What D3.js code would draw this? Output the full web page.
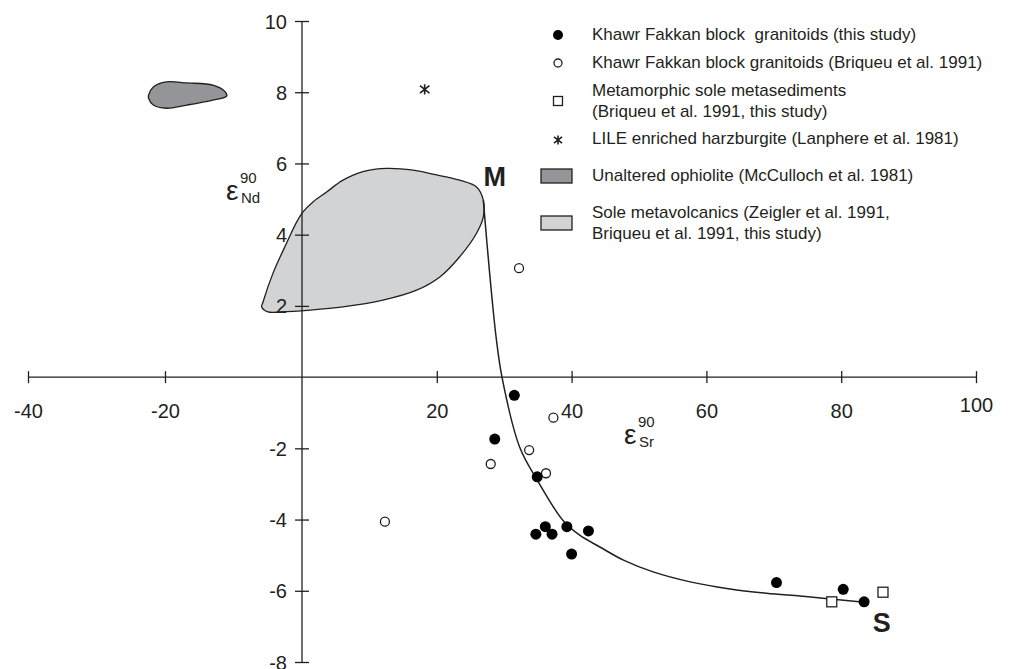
<!DOCTYPE html>
<html>
<head>
<meta charset="utf-8">
<title>eNd vs eSr mixing</title>
<style>
body { margin: 0; background: #fff; }
svg { display: block; }
text { font-family: "Liberation Sans", Arial, sans-serif; fill: #231f20; }
.axis path, .axis line { stroke: #231f20; stroke-width: 1.3px; }
.shape { stroke: #231f20; stroke-width: 1.3px; }
</style>
</head>
<body>
<script src="https://cdn.jsdelivr.net/npm/d3@7"></script>
<script>

// tick values
var xTicks = [-40, -20, 20, 40, 60, 80, 100];
var yTicks = [-8, -6, -4, -2, 2, 4, 6, 8, 10];

// Khawr Fakkan block granitoids (this study)  [eSr, eNd]
var granitoidsThisStudy = [
  [31.5, -0.51], [28.6, -1.74], [34.9, -2.80], [36.1, -4.20], [34.7, -4.41],
  [37.1, -4.41], [39.3, -4.20], [42.5, -4.32], [40.0, -4.97], [70.4, -5.77],
  [80.3, -5.96], [83.4, -6.31]
];

// Khawr Fakkan block granitoids (Briqueu et al. 1991)
var granitoidsBriqueu = [
  [32.2, 3.06], [37.3, -1.14], [33.7, -2.05], [28.0, -2.44], [36.2, -2.70], [12.3, -4.06]
];

// metamorphic sole metasediments
var metasediments = [[78.6, -6.31], [86.2, -6.04]];

// LILE enriched harzburgite
var harzburgite = [[18.2, 8.08]];

// mixing curve M -> S
var mixingCurve = [
  [26.9, 4.97], [27.8, 3.00], [28.8, 1.12], [29.7, -0.03], [32.3, -1.97],
  [34.9, -2.89], [38.7, -4.02], [41.2, -4.44], [44.2, -4.77], [47.7, -5.14],
  [52.1, -5.47], [57.6, -5.75], [63.5, -5.95], [68.9, -6.07], [73.9, -6.15],
  [77.3, -6.21], [83.4, -6.32]
];

// unaltered ophiolite field outline
var ophiolite = [
  [-22.4, 7.92], [-21.7, 8.15], [-19.8, 8.29], [-16.8, 8.26], [-13.0, 8.20],
  [-11.2, 8.01], [-11.0, 7.89], [-13.0, 7.78], [-16.8, 7.64], [-19.8, 7.55],
  [-21.7, 7.64], [-22.4, 7.83]
];

// sole metavolcanics field outline
var soleVolcanics = [
  [26.9, 4.97], [25.9, 5.34], [23.4, 5.53], [19.4, 5.70], [16.5, 5.81],
  [12.6, 5.86], [9.05, 5.77], [6.08, 5.53], [3.66, 5.20], [1.63, 4.92],
  [0.15, 4.64], [-0.77, 4.36], [-2.26, 3.76], [-4.23, 2.92], [-5.69, 2.11],
  [-5.88, 1.97], [-4.96, 1.83], [-3.2, 1.83], [1.19, 1.88], [6.08, 1.97],
  [12.0, 2.16], [17.0, 2.44], [20.5, 2.82], [23.4, 3.38], [25.9, 4.04],
  [26.9, 4.50]
];

// end member labels
var endMembers = [
  {label: "M", x: 28.6, y: 5.36},
  {label: "S", x: 86.0, y: -7.16}
];

var legendItems = [
  {type: "filled", lines: ["Khawr Fakkan block  granitoids (this study)"]},
  {type: "open", lines: ["Khawr Fakkan block granitoids (Briqueu et al. 1991)"]},
  {type: "square", lines: ["Metamorphic sole metasediments", "(Briqueu et al. 1991, this study)"]},
  {type: "star", lines: ["LILE enriched harzburgite (Lanphere et al. 1981)"]},
  {type: "dark", lines: ["Unaltered ophiolite (McCulloch et al. 1981)"]},
  {type: "light", lines: ["Sole metavolcanics (Zeigler et al. 1991,", "Briqueu et al. 1991, this study)"]}
];

var width = 1016,
    height = 669;

var darkFill = "#939598",
    lightFill = "#d1d3d4";

var x = d3.scaleLinear().domain([-40, 0, 100]).range([28, 302, 976]);
var y = d3.scaleLinear().domain([-8, 10]).range([662, 21]);

var svg = d3.select("body").append("svg")
    .attr("width", width)
    .attr("height", height);

var line = d3.line()
    .x(function(d) { return x(d[0]); })
    .y(function(d) { return y(d[1]); });

// star marker: a vertical bar crossed by an x
var starSymbol = {
  draw: function(context, size) {
    var r = Math.sqrt(size) / 2;
    var a = r * 0.9;
    context.moveTo(0, -r);
    context.lineTo(0, r);
    context.moveTo(-a, -a * 0.8);
    context.lineTo(a, a * 0.8);
    context.moveTo(-a, a * 0.8);
    context.lineTo(a, -a * 0.8);
  }
};

// fields
svg.append("path")
    .attr("class", "shape")
    .attr("d", line.curve(d3.curveCatmullRomClosed)(soleVolcanics))
    .style("fill", lightFill);

svg.append("path")
    .attr("class", "shape")
    .attr("d", line.curve(d3.curveCatmullRomClosed)(ophiolite))
    .style("fill", darkFill);

// x axis through the origin
var xAxis = svg.append("g")
    .attr("class", "axis")
    .attr("transform", "translate(0," + y(0) + ")")
    .call(d3.axisBottom(x).tickValues(xTicks).tickSizeOuter(0)
      .tickFormat(function(d) { return String(d); }));
xAxis.select(".domain").attr("d", "M" + x(-40) + ",0H" + x(100));
xAxis.selectAll(".tick line").attr("y1", -6).attr("y2", 6);
xAxis.selectAll(".tick text")
    .attr("y", function(d) { return d == 100 ? 35 : 41; })
    .attr("dy", 0)
    .style("font-size", "20px");

// y axis through the origin
var yAxis = svg.append("g")
    .attr("class", "axis")
    .attr("transform", "translate(" + x(0) + ",0)")
    .call(d3.axisLeft(y).tickValues(yTicks).tickSizeOuter(0)
      .tickFormat(function(d) { return String(d); }));
yAxis.select(".domain").attr("d", "M0," + y(10) + "V" + y(-8));
yAxis.selectAll(".tick line").attr("x1", -7).attr("x2", 7);
yAxis.selectAll(".tick text")
    .attr("x", -15)
    .attr("dy", 7)
    .style("font-size", "20px");

svg.selectAll(".axis").attr("font-family", null);
svg.selectAll(".axis text").style("fill", "#231f20");

// mixing curve
svg.append("path")
    .attr("d", line.curve(d3.curveCatmullRom)(mixingCurve))
    .style("fill", "none")
    .style("stroke", "#231f20")
    .style("stroke-width", "1.5px");

// axis titles
function epsLabel(px, py, sub) {
  var g = svg.append("g");
  g.append("text").attr("x", px - 1).attr("y", py).style("font-size", "28px").text("\u03b5");
  g.append("text").attr("x", px + 13).attr("y", py - 17).style("font-size", "15px").text("90");
  g.append("text").attr("x", px + 14).attr("y", py + 3).style("font-size", "15px").text(sub);
}
epsLabel(227, 200, "Nd");
epsLabel(625, 444, "Sr");

// data points
svg.append("g").selectAll("circle")
    .data(granitoidsBriqueu)
    .enter().append("circle")
    .attr("cx", function(d) { return x(d[0]); })
    .attr("cy", function(d) { return y(d[1]); })
    .attr("r", 4.5)
    .style("fill", "#fff")
    .style("stroke", "#231f20")
    .style("stroke-width", "1.3px");

svg.append("g").selectAll("rect")
    .data(metasediments)
    .enter().append("rect")
    .attr("x", function(d) { return x(d[0]) - 5; })
    .attr("y", function(d) { return y(d[1]) - 5; })
    .attr("width", 10)
    .attr("height", 10)
    .style("fill", "#fff")
    .style("stroke", "#231f20")
    .style("stroke-width", "1.3px");

svg.append("g").selectAll("circle")
    .data(granitoidsThisStudy)
    .enter().append("circle")
    .attr("cx", function(d) { return x(d[0]); })
    .attr("cy", function(d) { return y(d[1]); })
    .attr("r", 5.5)
    .style("fill", "#000");

svg.append("g").selectAll("path")
    .data(harzburgite)
    .enter().append("path")
    .attr("transform", function(d) { return "translate(" + x(d[0]) + "," + y(d[1]) + ")"; })
    .attr("d", d3.symbol().type(starSymbol).size(110))
    .style("fill", "none")
    .style("stroke", "#231f20")
    .style("stroke-width", "1.6px");

// end member labels
svg.append("g").selectAll("text")
    .data(endMembers)
    .enter().append("text")
    .attr("x", function(d) { return x(d.x); })
    .attr("y", function(d) { return y(d.y); })
    .attr("text-anchor", "middle")
    .style("font-size", "27px")
    .style("font-weight", "bold")
    .text(function(d) { return d.label; });

// legend
var rowY = [40, 68, 96, 144, 181, 218];
var legend = svg.append("g");
legendItems.forEach(function(item, i) {
  var ty = rowY[i];
  var my = ty - 5 + (item.lines.length - 1) * 10;
  if (item.type == "filled") {
    legend.append("circle").attr("cx", 558).attr("cy", my).attr("r", 5).style("fill", "#000");
  } else if (item.type == "open") {
    legend.append("circle").attr("cx", 558).attr("cy", my).attr("r", 4)
        .style("fill", "#fff").style("stroke", "#231f20").style("stroke-width", "1.3px");
  } else if (item.type == "square") {
    legend.append("rect").attr("x", 553.5).attr("y", my - 4.5).attr("width", 9).attr("height", 9)
        .style("fill", "#fff").style("stroke", "#231f20").style("stroke-width", "1.3px");
  } else if (item.type == "star") {
    legend.append("path").attr("transform", "translate(558," + (my + 1) + ")")
        .attr("d", d3.symbol().type(starSymbol).size(80))
        .style("fill", "none").style("stroke", "#231f20").style("stroke-width", "1.6px");
  } else {
    legend.append("rect").attr("x", 541).attr("y", my - 7).attr("width", 31).attr("height", 14)
        .attr("class", "shape")
        .style("fill", item.type == "dark" ? darkFill : lightFill);
  }
  item.lines.forEach(function(t, j) {
    legend.append("text")
        .attr("x", 592)
        .attr("y", ty + j * 21)
        .style("font-size", "17px")
        .style("white-space", "pre")
        .text(t);
  });
});

</script>
</body>
</html>
